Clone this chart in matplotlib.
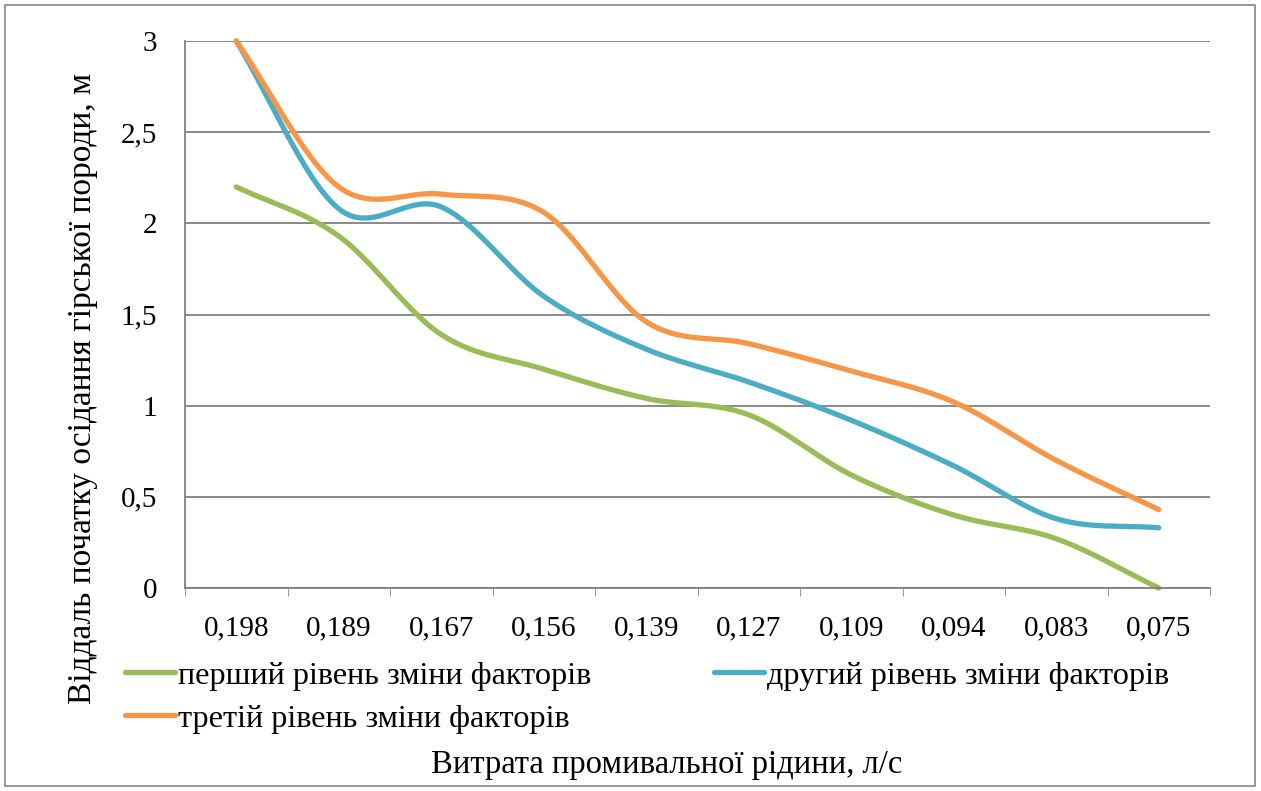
import numpy as np
import matplotlib.pyplot as plt
from matplotlib.patches import Rectangle

plt.rcParams['font.family'] = ['Liberation Serif', 'DejaVu Serif']

flows = ["0,198", "0,189", "0,167", "0,156", "0,139", "0,127", "0,109", "0,094", "0,083", "0,075"]

level1 = [2.20, 1.93, 1.39, 1.20, 1.04, 0.95, 0.62, 0.40, 0.27, 0.00]
level2 = [3.00, 2.08, 2.09, 1.60, 1.31, 1.13, 0.92, 0.67, 0.38, 0.33]
level3 = [3.00, 2.20, 2.16, 2.06, 1.46, 1.34, 1.19, 1.02, 0.70, 0.43]

names = ["перший рівень зміни факторів",
         "другий рівень зміни факторів",
         "третій рівень зміни факторів"]
colors = ["#9BBB59", "#4BACC6", "#F79646"]


def smooth(y, n=30):
    # Catmull-Rom curve through the points, like Excel's smoothed line
    y = np.asarray(y, dtype=float)
    x = np.arange(len(y), dtype=float)
    px = np.concatenate([[2 * x[0] - x[1]], x, [2 * x[-1] - x[-2]]])
    py = np.concatenate([[2 * y[0] - y[1]], y, [2 * y[-1] - y[-2]]])
    xs, ys = [], []
    t = np.linspace(0, 1, n, endpoint=False)
    for i in range(1, len(px) - 2):
        for p, out in ((px, xs), (py, ys)):
            p0, p1, p2, p3 = p[i - 1], p[i], p[i + 1], p[i + 2]
            out.extend(0.5 * (2 * p1 + (-p0 + p2) * t
                              + (2 * p0 - 5 * p1 + 4 * p2 - p3) * t ** 2
                              + (-p0 + 3 * p1 - 3 * p2 + p3) * t ** 3))
    xs.append(x[-1])
    ys.append(y[-1])
    return np.array(xs), np.array(ys)


fig = plt.figure(figsize=(12.61, 7.91), dpi=100)
ax = fig.add_axes([185 / 1261, 1 - 588 / 791, 1025 / 1261, 547 / 791])

lines = []
for vals, name, c in zip([level1, level2, level3], names, colors):
    sx, sy = smooth(vals)
    ln, = ax.plot(sx, sy, color=c, lw=3.8, solid_capstyle='round', label=name, clip_on=False)
    lines.append(ln)

ax.set_xlim(-0.5, len(flows) - 0.5)
ax.set_ylim(0, 3)
ax.set_yticks(np.arange(0, 3.01, 0.5))
ax.set_yticklabels(["0", "0,5", "1", "1,5", "2", "2,5", "3"], fontsize=21)
ax.set_xticks(range(len(flows)))
ax.set_xticklabels(flows, fontsize=21)
ax.set_xticks(np.arange(-0.5, len(flows), 1), minor=True)
ax.tick_params(axis='x', which='major', length=0, pad=20)
ax.tick_params(axis='x', which='minor', length=6, color='#868686')
ax.tick_params(axis='y', length=0, pad=20)
ax.grid(axis='y', color='#808080', lw=1.3)
ax.set_axisbelow(True)
for s in ['top', 'right']:
    ax.spines[s].set_visible(False)
for s in ['left', 'bottom']:
    ax.spines[s].set_color('#808080')
    ax.spines[s].set_linewidth(1.3)

fig.text(83 / 1261, 1 - 388 / 791, "Віддаль початку осідання гірської породи, м",
         rotation=90, ha='center', va='center', fontsize=24)
fig.text(667 / 1261, 1 - 765 / 791, "Витрата промивальної рідини, л/с",
         ha='center', va='center', fontsize=23.5)

fig.legend([lines[0], lines[2], lines[1]], [names[0], names[2], names[1]],
           ncol=2, loc='upper left', bbox_to_anchor=(109 / 1261, 1 - 645 / 791),
           frameon=False, fontsize=23.2, handlelength=1.55, handletextpad=0.1,
           columnspacing=3.8, labelspacing=0.42, borderpad=0)

fig.patches.append(Rectangle((5 / 1261, 5 / 791), 1250 / 1261, 781 / 791,
                             transform=fig.transFigure, fill=False,
                             edgecolor='#868686', lw=1.2))

fig.savefig("out.png", dpi=100)
